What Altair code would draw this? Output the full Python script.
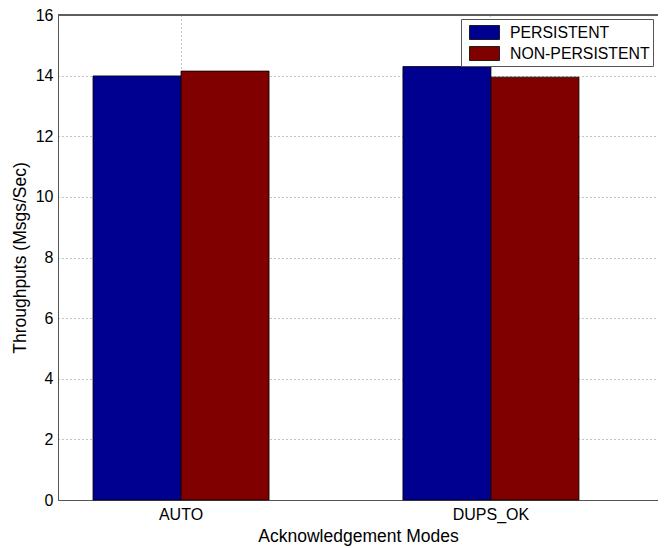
import altair as alt
import pandas as pd

modes = ["AUTO", "DUPS_OK"]
series = ["PERSISTENT", "NON-PERSISTENT"]
persistent = [13.99, 14.30]
non_persistent = [14.15, 13.95]
colors = ["#000090", "#800000"]
y_ticks = [0, 2, 4, 6, 8, 10, 12, 14, 16]

rows = []
for i, m in enumerate(modes):
    rows.append({"mode": m, "series": series[0], "value": persistent[i]})
    rows.append({"mode": m, "series": series[1], "value": non_persistent[i]})
df = pd.DataFrame(rows)

FONT = "Liberation Sans"
W, H = 600, 485

bars = alt.Chart(df).mark_bar(stroke="black", strokeWidth=0.8).encode(
    x=alt.X(
        "mode:N",
        sort=modes,
        title="Acknowledgement Modes",
        scale=alt.Scale(paddingInner=0.432, paddingOuter=0.184, align=0.307),
        axis=alt.Axis(
            labelAngle=0,
            grid=True,
            bandPosition=0.5,
            gridDash=[1, 3],
            gridColor="#888888",
            gridOpacity=1,
            ticks=False,
            domainColor="#555555",
            labelFont=FONT,
            labelFontSize=16,
            labelColor="black",
            labelPadding=6,
            titleFont=FONT,
            titleFontSize=17.5,
            titleFontWeight="normal",
            titleColor="black",
            titlePadding=5,
        ),
    ),
    xOffset=alt.XOffset("series:N", sort=series),
    y=alt.Y(
        "value:Q",
        title="Throughputs (Msgs/Sec)",
        scale=alt.Scale(domain=[0, 16], nice=False),
        axis=alt.Axis(
            values=y_ticks,
            grid=True,
            gridDash=[1, 3],
            gridColor="#888888",
            gridOpacity=1,
            ticks=False,
            domainColor="#555555",
            labelFont=FONT,
            labelFontSize=16,
            labelColor="black",
            labelPadding=5,
            titleFont=FONT,
            titleFontSize=17.5,
            titleFontWeight="normal",
            titleColor="black",
            titlePadding=6,
        ),
    ),
    color=alt.Color(
        "series:N",
        sort=series,
        scale=alt.Scale(domain=series, range=colors),
        legend=alt.Legend(
            title=None,
            orient="none",
            legendX=403,
            legendY=4,
            symbolType="M-1.5,-0.7H1.5V0.7H-1.5Z",
            symbolSize=400,
            symbolStrokeColor="black",
            symbolStrokeWidth=0.8,
            symbolOpacity=1,
            symbolOffset=10,
            labelFont=FONT,
            labelFontSize=15.8,
            labelColor="black",
            labelOffset=15,
            rowPadding=1,
            padding=3,
            strokeColor="#555555",
            fillColor="white",
            labelLimit=300,
        ),
    ),
)

top_line = alt.Chart(df).mark_rule(color="#555555", strokeWidth=1).encode(
    x=alt.value(0), x2=alt.value(W), y=alt.value(0)
)

chart = (
    alt.layer(bars, top_line)
    .properties(
        width=W,
        height=H,
        background="white",
        autosize=alt.AutoSizeParams(type="none"),
        padding={"left": 50, "top": 7, "right": 0, "bottom": 46},
    )
    .configure_view(stroke=None)
)

chart.save("out.html", embed_options={"renderer": "svg", "actions": False})
